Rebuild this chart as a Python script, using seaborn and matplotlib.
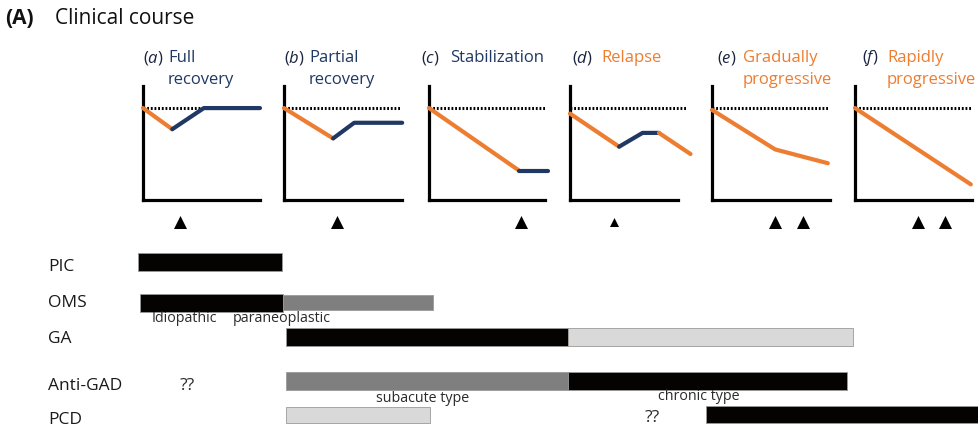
import matplotlib
matplotlib.use("Agg")
import matplotlib.pyplot as plt
import pandas as pd
import seaborn as sns

sns.set_theme(style="white")
plt.rcParams['font.family'] = ['Open Sans', 'DejaVu Sans']
plt.rcParams['mathtext.fontset'] = 'custom'
plt.rcParams['mathtext.it'] = 'Open Sans:italic'
plt.rcParams['mathtext.rm'] = 'Open Sans'

ORANGE = '#ED7D31'
NAVY = '#1F3864'
PHASE_COLORS = {'worse': ORANGE, 'better': NAVY}

# ---- clinical course panels -------------------------------------------
panel_letters = ['a', 'b', 'c', 'd', 'e', 'f']
panel_titles = ['Full\nrecovery', 'Partial\nrecovery', 'Stabilization',
                'Relapse', 'Gradually\nprogressive', 'Rapidly\nprogressive']
title_colors = [NAVY, NAVY, NAVY, ORANGE, ORANGE, ORANGE]

# time (0-10) and neurological function (100 = normal baseline)
course_t = [
    [0, 2.5, 5.2, 10.0],
    [0, 4.2, 6.0, 10.1],
    [0, 7.7, 10.2],
    [0, 4.2, 6.2, 7.6, 10.3],
    [0, 5.4, 9.9],
    [0, 9.9],
]
course_v = [
    [100, 77, 100, 100],
    [100, 67, 84, 84],
    [100, 32, 32],
    [94, 58, 73, 73, 50],
    [98, 55, 40],
    [100, 17],
]
# phase of each segment between consecutive points
course_phase = [
    ['worse', 'better', 'better'],
    ['worse', 'better', 'better'],
    ['worse', 'better'],
    ['worse', 'better', 'better', 'worse'],
    ['worse', 'worse'],
    ['worse'],
]
# treatment time points (triangles)
treatment_t = [[3.2], [4.5], [7.9], [3.8], [5.4, 7.8], [5.4, 7.7]]

# ---- disease bars -------------------------------------------------------
row_names = ['PIC', 'OMS', 'GA', 'Anti-GAD', 'PCD']
bar_row = ['PIC', 'OMS', 'OMS', 'GA', 'GA', 'Anti-GAD', 'Anti-GAD', 'PCD', 'PCD']
bar_start = [-0.02, -0.01, 1.00, 1.02, 3.00, 1.02, 3.00, 1.02, 3.97]
bar_end = [0.99, 1.00, 2.05, 3.00, 5.00, 3.00, 4.96, 2.03, 6.00]
bar_shade = ['dark', 'dark', 'mid', 'dark', 'light', 'mid', 'dark', 'light', 'dark']
SHADES = {'dark': '#050202', 'mid': '#7F7F7F', 'light': '#D9D9D9'}

notes = ['Idiopathic', 'paraneoplastic', '??', 'subacute type', 'chronic type', '??']

# ---- layout (figure pixels) --------------------------------------------
W, H = 979, 427
fig = plt.figure(figsize=(W / 100, H / 100), dpi=100)


def fx(px):
    return px / W


def fy(py):
    return 1 - py / H


def ftext(px, py, s, **kw):
    kw.setdefault('va', 'center')
    kw.setdefault('ha', 'left')
    return fig.text(fx(px), fy(py), s, **kw)


# full-width axes for the bar section: x in panel units, y in pixel rows
axb = fig.add_axes([0, 0, 1, 1])
axb.set_xlim(-141 / 142.4, (W - 141) / 142.4)
axb.set_ylim(H, 0)
axb.axis('off')

row_y = {'PIC': 263, 'OMS': 303.5, 'GA': 338, 'Anti-GAD': 382, 'PCD': 415.5}
label_y = {'PIC': 267, 'OMS': 303, 'GA': 339, 'Anti-GAD': 386, 'PCD': 420}
bar_h = [18, 18, 15, 18, 18, 18, 18, 16, 17]

for r, s0, s1, sh, h in zip(bar_row, bar_start, bar_end, bar_shade, bar_h):
    axb.barh(row_y[r], s1 - s0, left=s0, height=h, color=SHADES[sh],
             edgecolor='#9a9a9a', linewidth=0.6)

for r in row_names:
    ftext(48, label_y[r], r, fontsize=12.5, color='#1a1a1a')

note_pos = [(152, 319), (233, 319), (180, 386), (376, 399), (658, 397), (645, 418)]
note_size = [10.3, 10.3, 12.5, 10.3, 10.3, 12.5]
for s, (px, py), fs in zip(notes, note_pos, note_size):
    ftext(px, py, s, fontsize=fs, color='#2b2b2b')

# heading
ftext(5, 18, '(A)', fontsize=15, fontweight='bold', color='#111111')
ftext(55, 18, 'Clinical course', fontsize=15, color='#111111')

# small panels
panel_left = [143, 284, 429, 570, 712, 855]
title_x = [143, 284, 421, 572, 717, 862]
word_dx = [25, 25, 29, 29, 26, 25]
xaxis_end = [10.0, 10.1, 9.9, 9.2, 10.1, 10.0]
mark_size = [88, 88, 88, 42, 88, 88]
PANEL_W, PANEL_TOP, PANEL_H = 117, 87, 114
MARK_Y = -24

for i in range(6):
    ax = fig.add_axes([fx(panel_left[i]), fy(PANEL_TOP + PANEL_H),
                       fx(PANEL_W), PANEL_H / H])
    ax.patch.set_alpha(0)
    ax.set_xlim(0, 10)
    ax.set_ylim(0, 124)
    for side in ['top', 'right']:
        ax.spines[side].set_visible(False)
    for side in ['left', 'bottom']:
        ax.spines[side].set_linewidth(2.3)
        ax.spines[side].set_color('black')
    ax.spines['bottom'].set_bounds(0, xaxis_end[i])
    ax.set_xticks([])
    ax.set_yticks([])

    # normal level
    ax.plot([0, 10], [100, 100], color='black', lw=2.2,
            linestyle=(0, (0.6, 0.6)), clip_on=False, zorder=2)

    # course: consecutive segments of the same phase drawn as one polyline
    t, v, ph = course_t[i], course_v[i], course_phase[i]
    k = 0
    while k < len(ph):
        m = k
        while m + 1 < len(ph) and ph[m + 1] == ph[k]:
            m += 1
        seg = pd.DataFrame({'t': t[k:m + 2], 'v': v[k:m + 2]})
        sns.lineplot(data=seg, x='t', y='v', ax=ax, sort=False,
                     color=PHASE_COLORS[ph[k]], linewidth=3.0,
                     solid_capstyle='round', solid_joinstyle='round',
                     clip_on=False, zorder=3)
        k = m + 1
    ax.set_xlabel('')
    ax.set_ylabel('')

    tr = pd.DataFrame({'t': treatment_t[i], 'y': [MARK_Y] * len(treatment_t[i])})
    sns.scatterplot(data=tr, x='t', y='y', ax=ax, marker='^', s=mark_size[i],
                    color='black', linewidth=0, clip_on=False, zorder=4)
    ax.set_xlabel('')
    ax.set_ylabel('')

    # title: "(x)" with italic letter, then the course name
    ftext(title_x[i], 58, r'($\it{' + panel_letters[i] + r'}$)',
          fontsize=12, color='#1a2440')
    lines = panel_titles[i].split('\n')
    for j, ln in enumerate(lines):
        ftext(title_x[i] + word_dx[i], 58 + 22 * j, ln,
              fontsize=12, color=title_colors[i])

fig.savefig('out.png', dpi=100)
